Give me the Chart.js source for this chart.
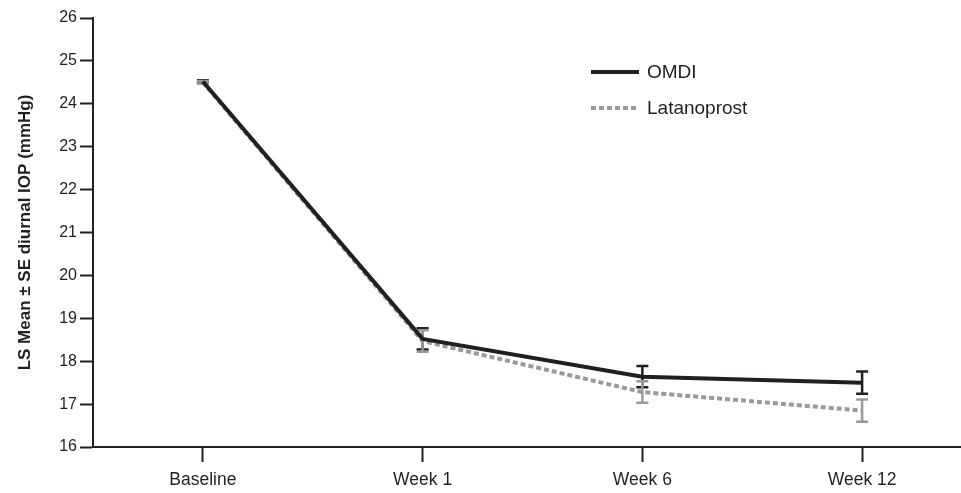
<!DOCTYPE html>
<html>
<head>
<meta charset="utf-8">
<script src="https://cdn.jsdelivr.net/npm/chart.js@4.4.1/dist/chart.umd.min.js"></script>
<style>
  html, body { margin: 0; padding: 0; background: #fff; }
  #wrap { width: 961px; height: 493px; position: relative; }
</style>
</head>
<body>
<div id="wrap"><canvas id="iop-chart"></canvas></div>
<script>
const visits = ["Baseline", "Week 1", "Week 6", "Week 12"];
const omdiMean = [24.52, 18.52, 17.64, 17.5];
const omdiSE = [0.03, 0.25, 0.25, 0.26];
const latMean = [24.5, 18.47, 17.28, 16.85];
const latSE = [0.03, 0.25, 0.25, 0.26];
const yTicks = [16, 17, 18, 19, 20, 21, 22, 23, 24, 25, 26];

const INK = "#231f20";
const GREY = "#9a9a9a";
const FONT = "'Liberation Sans', Arial, sans-serif";

const toPoints = (arr) => arr.map((v, i) => ({ x: i, y: v }));

// error bars drawn under each series, using the chart's own scales
const errorBars = {
  id: "errorBars",
  beforeDatasetsDraw(chart) {
    const { ctx, scales: { x, y } } = chart;
    chart.data.datasets.forEach((ds) => {
      ctx.save();
      ctx.strokeStyle = ds.borderColor;
      ctx.lineWidth = 2.5;
      ds.data.forEach((pt, i) => {
        const se = ds.se[i];
        const px = x.getPixelForValue(pt.x);
        const top = y.getPixelForValue(pt.y + se);
        const bot = y.getPixelForValue(pt.y - se);
        ctx.beginPath();
        ctx.moveTo(px, top);
        ctx.lineTo(px, bot);
        ctx.moveTo(px - 6, top);
        ctx.lineTo(px + 6, top);
        ctx.moveTo(px - 6, bot);
        ctx.lineTo(px + 6, bot);
        ctx.stroke();
      });
      ctx.restore();
    });
  },
};

const legendBox = {
  id: "legendBox",
  afterDraw(chart) {
    const { ctx } = chart;
    ctx.save();
    ctx.font = `19px ${FONT}`;
    ctx.textBaseline = "middle";
    chart.data.datasets.forEach((ds, i) => {
      const yy = 72 + i * 36;
      ctx.strokeStyle = ds.borderColor;
      ctx.lineWidth = 4;
      ctx.setLineDash(ds.borderDash || []);
      ctx.beginPath();
      ctx.moveTo(591, yy);
      ctx.lineTo(639, yy);
      ctx.stroke();
      ctx.setLineDash([]);
      ctx.fillStyle = INK;
      ctx.fillText(ds.label, 647, yy + 1);
    });
    ctx.restore();
  },
};

new Chart(document.getElementById("iop-chart"), {
  type: "line",
  data: {
    datasets: [
      {
        label: "OMDI",
        data: toPoints(omdiMean),
        se: omdiSE,
        borderColor: INK,
        borderWidth: 4,
        pointRadius: 0,
        tension: 0,
        order: 1,
      },
      {
        label: "Latanoprost",
        data: toPoints(latMean),
        se: latSE,
        borderColor: GREY,
        borderWidth: 4,
        borderDash: [5, 3],
        pointRadius: 0,
        tension: 0,
        order: 2,
      },
    ],
  },
  options: {
    responsive: true,
    maintainAspectRatio: false,
    animation: false,
    layout: { padding: { top: 18, right: 0, left: 0, bottom: 0 } },
    plugins: { legend: { display: false }, tooltip: { enabled: false } },
    scales: {
      x: {
        type: "linear",
        min: -0.5,
        max: 3.45,
        afterBuildTicks: (scale) => {
          scale.ticks = visits.map((_, i) => ({ value: i }));
        },
        afterFit: (scale) => { scale.height = 46; },
        ticks: {
          color: INK,
          padding: 8,
          font: { family: FONT, size: 17.5 },
          callback: (v) => visits[v] ?? "",
          maxRotation: 0,
        },
        grid: {
          drawOnChartArea: false,
          drawTicks: true,
          tickLength: 15,
          tickWidth: 2,
          tickColor: INK,
        },
        border: { color: INK, width: 2 },
      },
      y: {
        min: 16,
        max: 26,
        afterBuildTicks: (scale) => {
          scale.ticks = yTicks.map((v) => ({ value: v }));
        },
        afterFit: (scale) => { scale.width = 93; },
        ticks: {
          color: INK,
          padding: 3,
          font: { family: FONT, size: 16 },
        },
        grid: {
          drawOnChartArea: false,
          tickLength: 13,
          tickWidth: 2,
          tickColor: INK,
        },
        border: { color: INK, width: 2 },
        title: {
          display: true,
          text: "LS Mean ± SE diurnal IOP (mmHg)",
          color: INK,
          font: { family: FONT, size: 17, weight: "bold" },
          padding: { top: 15, bottom: 0 },
        },
      },
    },
  },
  plugins: [errorBars, legendBox],
});
</script>
</body>
</html>
